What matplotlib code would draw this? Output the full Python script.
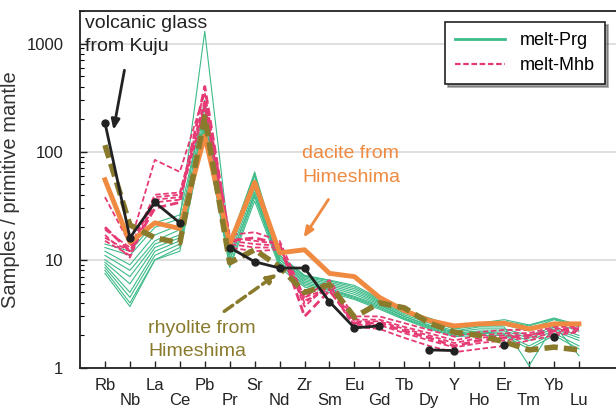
import numpy as np
import matplotlib
matplotlib.use("Agg")
import matplotlib.pyplot as plt
from matplotlib.lines import Line2D
from matplotlib.ticker import LogLocator, NullFormatter

plt.rcParams['font.family'] = ['Liberation Sans', 'DejaVu Sans']

nan = np.nan

elements = ["Rb", "Nb", "La", "Ce", "Pb", "Pr", "Sr", "Nd", "Zr", "Sm",
            "Eu", "Gd", "Tb", "Dy", "Y", "Ho", "Er", "Tm", "Yb", "Lu"]

# primitive-mantle normalised concentrations
kuju_glass = [185, 16, 34, 22, nan, 13, 9.6, 8.4, 8.4, 4.1,
              2.35, 2.45, nan, 1.47, 1.45, nan, 1.63, nan, 1.94, nan]
dacite_himeshima = [55, 14.5, 22, 19.5, 140, 14, 52, 11.6, 12.4, 7.5,
                    7.0, 4.5, 3.4, 2.75, 2.45, 2.56, 2.6, 2.3, 2.56, 2.56]
rhyolite_himeshima = [115, 21, 16, 14.3, 210, 9.4, 12.4, 8.6, 5.0, 5.9,
                      2.95, 4.0, 3.6, 2.6, 2.15, 2.0, 1.75, 1.47, 1.56, 1.47]

melt_prg = [
    [13, 11, 20, 24, 1300, 14, 65, 11, 7.2, 6.5, 5.8, 4.4, 3.4, 2.9, 2.4, 2.6, 2.8, 2.5, 2.9, 2.5],
    [12, 9, 17, 21, 300, 13, 60, 10.5, 7.0, 6.2, 5.4, 4.2, 3.3, 2.8, 2.35, 2.5, 2.6, 2.3, 2.8, 2.4],
    [11, 8, 15, 19, 250, 12, 55, 10, 6.8, 6.0, 5.2, 4.1, 3.2, 2.7, 2.3, 2.45, 2.5, 2.2, 2.6, 2.2],
    [10, 7, 14, 17, 220, 12, 50, 10, 6.6, 5.8, 5.0, 4.0, 3.1, 2.6, 2.2, 2.4, 2.4, 1.05, 2.5, 1.3],
    [9.5, 6, 13, 16, 200, 11, 45, 9.5, 6.4, 5.6, 4.8, 3.9, 3.0, 2.5, 2.15, 2.3, 2.3, 2.0, 2.4, 2.0],
    [9, 5, 12, 15, 180, 10, 42, 9.5, 6.2, 5.4, 4.6, 3.8, 3.0, 2.45, 2.1, 2.2, 2.2, 1.9, 2.3, 1.9],
    [8.5, 4.5, 11, 14, 170, 10, 40, 9, 6.0, 5.3, 4.5, 3.7, 2.9, 2.4, 2.05, 2.15, 2.1, 1.8, 2.2, 1.8],
    [8, 4, 10, 13, 160, 9, 38, 9, 5.8, 5.2, 4.4, 3.6, 2.85, 2.35, 2.0, 2.1, 2.05, 1.6, 2.1, 1.6],
    [7.5, 3.7, 10, 12, 150, 8.5, 35, 8.5, 5.6, 5.0, 4.3, 3.5, 2.8, 2.3, 1.95, 2.0, 2.0, 1.5, 2.0, 1.5],
    [14, 12, 22, 26, 280, 15, 62, 11, 7.1, 6.4, 5.6, 4.3, 3.35, 2.85, 2.4, 2.55, 2.7, 2.45, 2.85, 2.45],
]

melt_mhb = [
    [38, 14, 84, 65, 350, 17, 18, 15, 4.5, 6.5, 3.0, 3.0, 2.6, 2.25, 1.95, 2.15, 2.25, 2.25, 2.6, 2.6],
    [19, 13, 40, 42, 300, 16, 15, 14, 3.7, 6.0, 2.8, 2.8, 2.4, 2.1, 1.8, 2.0, 2.1, 2.1, 2.4, 2.4],
    [16, 12, 38, 40, 280, 15, 14, 13.5, 4.0, 5.8, 2.7, 2.7, 2.3, 2.0, 1.7, 1.9, 2.0, 2.0, 2.3, 2.35],
    [15, 11, 36, 38, 260, 14, 13, 13, 4.5, 5.5, 2.5, 2.5, 2.1, 1.8, 1.55, 1.7, 1.8, 1.9, 2.1, 2.2],
    [17, 10.5, 34, 36, 250, 13, 12, 12.5, 4.2, 5.3, 2.4, 2.3, 1.9, 1.6, 1.4, 1.5, 1.6, 1.8, 2.0, 2.15],
    [20, 12, 30, 34, 400, 15, 16, 14, 3.0, 5.2, 2.6, 2.6, 2.2, 1.9, 1.6, 1.8, 1.9, 2.0, 2.2, 2.3],
]

GREEN = "#3dbb88"
PINK = "#e63a74"
ORANGE = "#ef8a40"
OLIVE = "#8a7a2c"
BLACK = "#222222"

fig = plt.figure(figsize=(6.16, 4.09), dpi=100)
ax = fig.add_axes([0.1299, 0.1002, 0.891, 0.873])

x = np.arange(len(elements))

for row in melt_prg:
    ax.plot(x, row, color=GREEN, lw=0.8, zorder=2)
for i, row in enumerate(melt_mhb):
    ax.plot(x, row, color=PINK, lw=2.0 if i == len(melt_mhb) - 1 else 1.3,
            dashes=(3, 1.5), zorder=3)

ax.plot(x, dacite_himeshima, color=ORANGE, lw=3.5, zorder=4)
ax.plot(x, rhyolite_himeshima, color=OLIVE, lw=4, dashes=(2.4, 1.1), zorder=5)
ax.plot(x, kuju_glass, color=BLACK, lw=2, marker="o", ms=5, zorder=6)

ax.set_yscale("log")
ax.set_ylim(1, 2000)
ax.set_xlim(-1, 21)

ax.set_yticks([1, 10, 100, 1000])
ax.set_yticklabels(["1", "10", "100", "1000"])
ax.yaxis.set_minor_locator(LogLocator(base=10, subs=np.arange(2, 10)))
ax.yaxis.set_minor_formatter(NullFormatter())
ax.tick_params(axis="y", which="major", direction="in", length=5, width=1,
               labelsize=12, pad=12, colors="#222222")
ax.tick_params(axis="y", which="minor", direction="in", length=3, width=0.8)

ax.set_xticks(x)
ax.set_xticklabels([e if i % 2 == 0 else "\n" + e for i, e in enumerate(elements)])
for lab in ax.get_xticklabels():
    lab.set_linespacing(1.0)
ax.tick_params(axis="x", direction="in", length=5, width=1, labelsize=12,
               pad=7, colors="#222222")

ax.grid(axis="y", which="major", color="#d9d9d9", lw=1.2, zorder=0)
ax.set_axisbelow(True)

for side in ["left", "bottom", "top"]:
    ax.spines[side].set_color("#222222")
    ax.spines[side].set_linewidth(1.3)
ax.spines["right"].set_visible(False)

ax.set_ylabel("Samples / primitive mantle", fontsize=14.5, color="#333333")
ax.yaxis.set_label_coords(-0.11, 0.50)

# annotations
ax.text(-0.8, 1850, "volcanic glass\nfrom Kuju", fontsize=14, color="#222222",
        va="top", ha="left", linespacing=1.5, zorder=8)
ax.annotate("", xy=(0.32, 150), xytext=(0.8, 600),
            arrowprops=dict(arrowstyle="-|>,head_length=0.6,head_width=0.25",
                            color=BLACK, lw=2), zorder=8)

ax.text(7.9, 115, "dacite from\nHimeshima", fontsize=14, color=ORANGE,
        va="top", ha="left", linespacing=1.5, zorder=8)
ax.annotate("", xy=(7.9, 15.3), xytext=(9.02, 38),
            arrowprops=dict(arrowstyle="-|>,head_length=0.6,head_width=0.25",
                            color=ORANGE, lw=2), zorder=8)

ax.text(1.72, 2.8, "rhyolite from\nHimeshima", fontsize=14, color=OLIVE,
        va="top", ha="left", linespacing=1.5, zorder=8)
ax.annotate("", xy=(7.01, 7.74), xytext=(4.69, 3.23),
            arrowprops=dict(arrowstyle="-|>,head_length=0.6,head_width=0.25",
                            color=OLIVE, lw=2.5, linestyle=(0, (3, 1.5))), zorder=8)

handles = [Line2D([], [], color=GREEN, lw=2),
           Line2D([], [], color=PINK, lw=1.6, dashes=(2.5, 1.2))]
leg = ax.legend(handles, ["melt-Prg", "melt-Mhb"], loc="upper right",
                bbox_to_anchor=(0.956, 0.969), borderaxespad=0, fontsize=13,
                handlelength=2.8, frameon=True, fancybox=False, shadow=True,
                framealpha=1, edgecolor="#222222", borderpad=0.55,
                labelspacing=0.45)
leg.get_frame().set_linewidth(1.2)

fig.savefig("out.png", dpi=100)
